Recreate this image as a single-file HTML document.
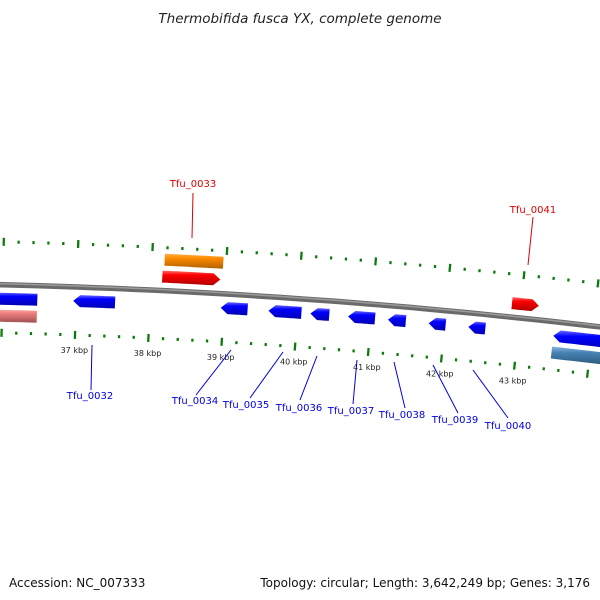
<!DOCTYPE html>
<html><head><meta charset="utf-8"><style>
html,body{margin:0;padding:0;background:#fff}
svg{display:block}
text{font-family:"DejaVu Sans","Liberation Sans",sans-serif}
</style></head><body>
<svg id="c" width="600" height="600" viewBox="0 0 600 600">
<defs>
<linearGradient id="gBlue" x1="0" y1="0" x2="0" y2="1"><stop offset="0" stop-color="#6a6aff"/><stop offset="0.3" stop-color="#0000ff"/><stop offset="1" stop-color="#0000b0"/></linearGradient>
<linearGradient id="gRed" x1="0" y1="0" x2="0" y2="1"><stop offset="0" stop-color="#ff7070"/><stop offset="0.3" stop-color="#ff0000"/><stop offset="1" stop-color="#b00000"/></linearGradient>
<linearGradient id="gOrange" x1="0" y1="0" x2="0" y2="1"><stop offset="0" stop-color="#ffb050"/><stop offset="0.3" stop-color="#ff8c00"/><stop offset="1" stop-color="#b06000"/></linearGradient>
<linearGradient id="gPink" x1="0" y1="0" x2="0" y2="1"><stop offset="0" stop-color="#f8b0b0"/><stop offset="0.3" stop-color="#f08080"/><stop offset="1" stop-color="#a05050"/></linearGradient>
<linearGradient id="gSteel" x1="0" y1="0" x2="0" y2="1"><stop offset="0" stop-color="#8ab4dc"/><stop offset="0.3" stop-color="#4682b4"/><stop offset="1" stop-color="#2a5070"/></linearGradient>
</defs>
<text x="300" y="23" text-anchor="middle" font-size="13.5" font-style="italic" fill="#222">Thermobifida fusca YX, complete genome</text>
<text x="9" y="587" font-size="12" fill="#111">Accession: NC_007333</text>
<text x="590" y="587" text-anchor="end" font-size="12" fill="#111">Topology: circular; Length: 3,642,249 bp; Genes: 3,176</text>
<g id="layer"></g>
</svg>
<script>
// data
const majorTicksKbp = [35, 36, 37, 38, 39, 40, 41, 42, 43, 44];
const tickLabelKbp = [37, 38, 39, 40, 41, 42, 43];
const geneNames = ["Tfu_0031","Tfu_0031b","Tfu_0032","Tfu_0033","Tfu_0033b","Tfu_0034","Tfu_0035","Tfu_0036","Tfu_0037","Tfu_0038","Tfu_0039","Tfu_0040","Tfu_0041","Tfu_0042","Tfu_0042b"];
const geneStarts = [35500,35500,36959,38149,38170,38959,39608,40176,40689,41230,41784,42324,42878,43480,43480];
const geneEnds   = [36473,36473,37527,38932,38959,39324,40054,40432,41054,41473,42014,42554,43243,44500,44500];
const geneStrand = [-1,-1,-1,1,1,-1,-1,-1,-1,-1,-1,-1,1,-1,-1];
const geneRow    = [1,2,1,1,2,1,1,1,1,1,1,1,1,1,2];
const geneColor  = ["gBlue","gPink","gBlue","gRed","gOrange","gBlue","gBlue","gBlue","gBlue","gBlue","gBlue","gBlue","gRed","gBlue","gSteel"];
const geneArrow  = [1,0,1,1,0,1,1,1,1,1,1,1,1,1,0];

const NS="http://www.w3.org/2000/svg";
const layer=document.getElementById('layer');
const CX=-150, CY=6713, R=6430;
const TH0=Math.asin(225/(R-48)); // angle of 37 kbp
const PER_KBP=74/R;
function ang(bp){return TH0+(bp-37000)/1000*PER_KBP;}
function pt(bp,r){const a=ang(bp);return [CX+r*Math.sin(a),CY-r*Math.cos(a)];}
function mk(tag,attrs){const e=document.createElementNS(NS,tag);for(const k in attrs)e.setAttribute(k,attrs[k]);layer.appendChild(e);return e;}

// backbone
(function(){
  let d="";for(let bp=34000;bp<=45500;bp+=250){const p=pt(bp,R);d+=(d?"L":"M")+p[0].toFixed(1)+","+p[1].toFixed(1);}
  const b=mk('path',{d:d,fill:'none',stroke:'#6a6a6a','stroke-width':5.5});
  
  
  const b2=mk('path',{d:d,fill:'none',stroke:'#9a9a9a','stroke-width':1.5,transform:'translate(0,-1)'});
  
  
})();

// ticks on both rings
[R+43,R-48].forEach(function(r,ri){
  for(let bp=34000;bp<=45000;bp+=200){
    const major=(bp%1000===0);
    const len=major?8:3;
    const a=pt(bp,r-len/2),b=pt(bp,r+len/2);
    const t=mk('line',{x1:a[0],y1:a[1],x2:b[0],y2:b[1],stroke:'#0d7a0d','stroke-width':2.3});
    
    
  }
});
tickLabelKbp.forEach(function(k){
  const p=pt(k*1000,R-66);
  const t=mk('text',{x:p[0],y:p[1],'text-anchor':'middle','font-size':8,fill:'#222'});
  t.textContent=k+" kbp";
  
  
});

// genes
geneStarts.forEach(function(s,i){
  const e=geneEnds[i],st=geneStrand[i];
  const rc=R+st*(geneRow[i]===1?14:31);
  const h=12;
  const arrowBp=geneArrow[i]?7*1000/74:0;
  let top=[],bot=[];
  let s1=s,e1=e;
  if(st>0)e1=e-arrowBp;else s1=s+arrowBp;
  for(let k=0;k<=10;k++){const bp=s1+(e1-s1)*k/10;top.push(pt(bp,rc+h/2));bot.push(pt(bp,rc-h/2));}
  let pts=[];
  if(st<0&&arrowBp)pts.push(pt(s,rc));
  pts=pts.concat(top);
  if(st>0&&arrowBp)pts.push(pt(e,rc));
  pts=pts.concat(bot.reverse());
  const g=mk('polygon',{points:pts.map(p=>p[0].toFixed(1)+","+p[1].toFixed(1)).join(" "),fill:'url(#'+geneColor[i]+')'});
  
  
});

// labels with leader lines (annotation positions)
const labels=[
 ["Tfu_0033",193,187,193,193,192,238,"#dd0000"],
 ["Tfu_0041",533,213,533,217,528,265,"#dd0000"],
 ["Tfu_0032",90,399,92,345,91,390,"#0000dd"],
 ["Tfu_0034",195,404,196,395,231,350,"#0000dd"],
 ["Tfu_0035",246,408,250,398,283,352,"#0000dd"],
 ["Tfu_0036",299,411,300,400,317,356,"#0000dd"],
 ["Tfu_0037",351,414,353,404,357,360,"#0000dd"],
 ["Tfu_0038",402,418,405,408,394,362,"#0000dd"],
 ["Tfu_0039",455,423,458,413,433,365,"#0000dd"],
 ["Tfu_0040",508,429,508,418,473,370,"#0000dd"]
];
labels.forEach(function(l){
  const ln=mk('line',{x1:l[3],y1:l[4],x2:l[5],y2:l[6],stroke:l[7],'stroke-width':1});
  
  
  const t=mk('text',{x:l[1],y:l[2],'text-anchor':'middle','font-size':10,fill:l[7]});
  t.textContent=l[0];
  
  
});
</script>
</body></html>
